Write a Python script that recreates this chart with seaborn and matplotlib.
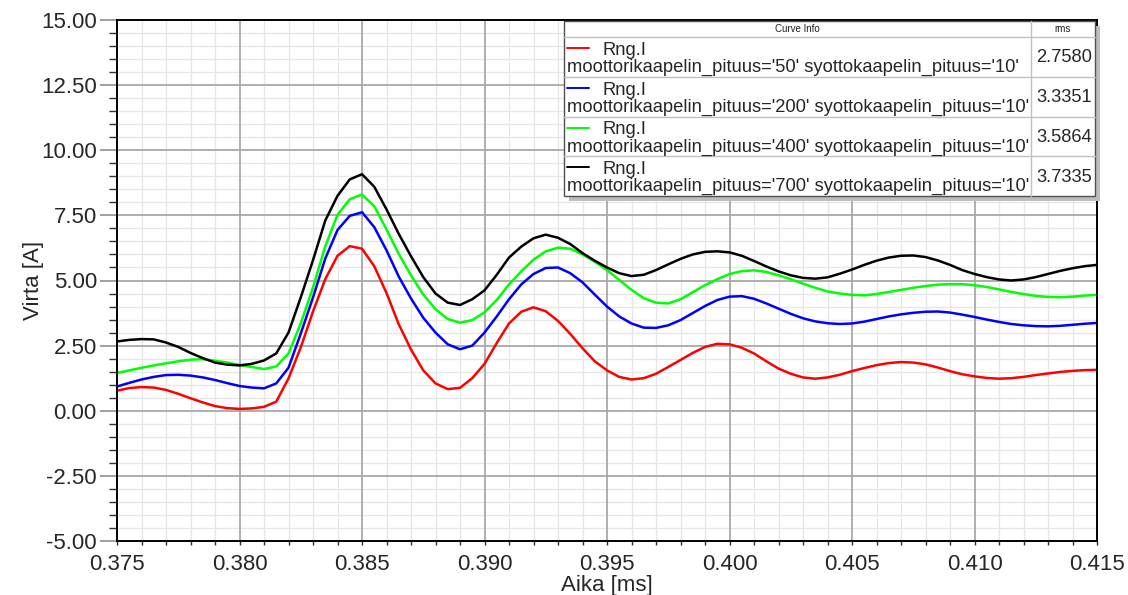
import numpy as np
import pandas as pd
import matplotlib
matplotlib.use("Agg")
import matplotlib.pyplot as plt
from matplotlib.patches import Rectangle
from matplotlib.lines import Line2D
from matplotlib.ticker import MultipleLocator, FormatStrFormatter
import seaborn as sns

# ---------------- data ----------------
TIME_MS = np.linspace(0.375, 0.415, 81)

I_50 = [0.77, 0.87, 0.91, 0.89, 0.80, 0.65, 0.48, 0.32, 0.18, 0.10,
        0.07, 0.09, 0.15, 0.35, 1.24, 2.43, 3.81, 5.05, 5.95, 6.32,
        6.22, 5.55, 4.52, 3.32, 2.35, 1.55, 1.05, 0.83, 0.88, 1.25,
        1.80, 2.60, 3.35, 3.80, 3.97, 3.82, 3.45, 2.95, 2.40, 1.90,
        1.55, 1.30, 1.20, 1.25, 1.42, 1.68, 1.95, 2.22, 2.45, 2.57,
        2.55, 2.42, 2.20, 1.90, 1.62, 1.42, 1.28, 1.23, 1.28, 1.38,
        1.52, 1.64, 1.75, 1.83, 1.87, 1.85, 1.78, 1.66, 1.52, 1.40,
        1.32, 1.26, 1.23, 1.25, 1.30, 1.37, 1.43, 1.49, 1.53, 1.56,
        1.57]

I_200 = [0.93, 1.07, 1.20, 1.30, 1.37, 1.38, 1.35, 1.28, 1.18, 1.06,
         0.95, 0.89, 0.86, 1.05, 1.65, 2.96, 4.35, 5.84, 6.94, 7.48,
         7.62, 7.05, 6.16, 5.15, 4.31, 3.57, 3.00, 2.55, 2.36, 2.50,
         3.00, 3.62, 4.28, 4.85, 5.25, 5.48, 5.50, 5.28, 4.93, 4.46,
         4.00, 3.62, 3.35, 3.19, 3.18, 3.28, 3.48, 3.75, 4.02, 4.25,
         4.38, 4.40, 4.30, 4.12, 3.92, 3.72, 3.55, 3.43, 3.36, 3.33,
         3.35, 3.42, 3.52, 3.62, 3.70, 3.76, 3.80, 3.81, 3.77, 3.69,
         3.60, 3.50, 3.41, 3.33, 3.28, 3.25, 3.24, 3.26, 3.30, 3.34,
         3.37]

I_400 = [1.45, 1.55, 1.65, 1.74, 1.82, 1.90, 1.96, 1.98, 1.92, 1.85,
         1.76, 1.68, 1.60, 1.70, 2.20, 3.35, 4.73, 6.31, 7.52, 8.12,
         8.30, 7.85, 6.96, 6.02, 5.20, 4.46, 3.90, 3.52, 3.38, 3.48,
         3.78, 4.25, 4.85, 5.35, 5.80, 6.12, 6.26, 6.22, 6.00, 5.72,
         5.40, 5.02, 4.64, 4.32, 4.15, 4.12, 4.28, 4.55, 4.82, 5.05,
         5.25, 5.36, 5.39, 5.33, 5.20, 5.05, 4.88, 4.72, 4.58, 4.50,
         4.45, 4.43, 4.48, 4.56, 4.64, 4.72, 4.79, 4.84, 4.86, 4.86,
         4.82, 4.75, 4.66, 4.56, 4.48, 4.41, 4.37, 4.36, 4.38, 4.42,
         4.45]

I_700 = [2.66, 2.72, 2.75, 2.74, 2.62, 2.45, 2.22, 2.02, 1.85, 1.77,
         1.74, 1.80, 1.93, 2.20, 3.00, 4.35, 5.78, 7.30, 8.25, 8.88,
         9.08, 8.60, 7.73, 6.79, 5.93, 5.13, 4.50, 4.15, 4.06, 4.28,
         4.62, 5.22, 5.88, 6.30, 6.62, 6.76, 6.64, 6.40, 6.05, 5.76,
         5.50, 5.28, 5.17, 5.22, 5.40, 5.62, 5.83, 6.00, 6.10, 6.12,
         6.08, 5.95, 5.75, 5.54, 5.35, 5.20, 5.10, 5.07, 5.12, 5.26,
         5.42, 5.60, 5.76, 5.88, 5.95, 5.96, 5.90, 5.77, 5.60, 5.40,
         5.25, 5.13, 5.04, 5.00, 5.04, 5.13, 5.25, 5.37, 5.47, 5.55,
         5.60]

CABLE_LENGTHS = ["50", "200", "400", "700"]
RMS_VALUES = ["2.7580", "3.3351", "3.5864", "3.7335"]
COLORS = ["#ff0000", "#0000ff", "#00ff00", "#000000"]
SERIES = [I_50, I_200, I_400, I_700]

# ---------------- figure ----------------
sns.set_style("white")
plt.rcParams["font.family"] = ["Liberation Sans", "DejaVu Sans"]

W, H = 1128, 595
fig = plt.figure(figsize=(W / 100, H / 100), dpi=100)
ax = fig.add_axes([117 / W, 1 - 541 / H, 980 / W, 521 / H])

frames = []
for name, vals in zip(CABLE_LENGTHS, SERIES):
    frames.append(pd.DataFrame({"t": TIME_MS, "I": vals, "len": name}))
df = pd.concat(frames, ignore_index=True)

sns.lineplot(data=df, x="t", y="I", hue="len", hue_order=CABLE_LENGTHS,
             palette=COLORS, linewidth=1.8, legend=False, ax=ax,
             estimator=None, sort=False, zorder=3)

ax.set_xlim(0.375, 0.415)
ax.set_ylim(-5, 15)
ax.xaxis.set_major_locator(MultipleLocator(0.005))
ax.xaxis.set_minor_locator(MultipleLocator(0.001))
ax.yaxis.set_major_locator(MultipleLocator(2.5))
ax.yaxis.set_minor_locator(MultipleLocator(0.5))
ax.xaxis.set_major_formatter(FormatStrFormatter("%.3f"))
ax.yaxis.set_major_formatter(FormatStrFormatter("%.2f"))

ax.set_axisbelow(True)
ax.grid(which="minor", color="#e6e6e6", linewidth=0.9, linestyle="-")
ax.grid(which="major", visible=False)
# major grid drawn on top of the minor grid
for v in ax.get_xticks():
    if 0.375 < v < 0.415:
        ax.axvline(v, color="#a8a8a8", linewidth=1.3, zorder=1)
for v in ax.get_yticks():
    if -5 < v < 15:
        ax.axhline(v, color="#a8a8a8", linewidth=1.3, zorder=1)

for s in ax.spines.values():
    s.set_color("black")
    s.set_linewidth(1.4)
    s.set_visible(True)
    s.set_zorder(4)

ax.tick_params(axis="y", which="major", direction="out", length=12.5,
               width=1.2, color="#909090", labelsize=16, pad=2,
               left=True)
ax.tick_params(axis="y", which="minor", direction="out", length=6,
               width=1.0, color="#303030", left=True)
ax.tick_params(axis="x", which="major", direction="out", length=3,
               width=1.0, color="#303030", labelsize=16, pad=6,
               bottom=True)
ax.tick_params(axis="x", which="minor", direction="out", length=3,
               width=1.0, color="#303030", bottom=True)

ax.set_xlabel("Aika [ms]", fontsize=16, labelpad=0)
ax.set_ylabel("Virta [A]", fontsize=16, labelpad=-2)


# ---------------- legend table ("Curve Info") ----------------
def fx(x):
    return x / W


def fy(y):
    return 1 - y / H


L, R, T, B = 564, 1095, 21, 196
SEP = 1031
HDR = 37
ROW = (B - HDR) / 4

# shadow
fig.add_artist(Rectangle((fx(L + 5), fy(B + 5)), fx(R - L), (B - T) / H,
                         transform=fig.transFigure, facecolor="#bdbdbd",
                         edgecolor="none", zorder=5))
# box
fig.add_artist(Rectangle((fx(L), fy(B)), fx(R - L), (B - T) / H,
                         transform=fig.transFigure, facecolor="white",
                         edgecolor="#505050", linewidth=1.0, zorder=6))
# inner lines
fig.add_artist(Line2D([fx(SEP), fx(SEP)], [fy(T), fy(B)],
                      transform=fig.transFigure, color="#c0c0c0",
                      linewidth=1.0, zorder=7))
for k in range(4):
    yy = HDR + k * ROW
    fig.add_artist(Line2D([fx(L), fx(R)], [fy(yy), fy(yy)],
                          transform=fig.transFigure, color="#c0c0c0",
                          linewidth=1.0, zorder=7))

fig.text(fx((L + SEP) / 2), fy((T + HDR) / 2), "Curve Info", fontsize=7,
         ha="center", va="center", color="#202020", zorder=8)
fig.text(fx((SEP + R) / 2), fy((T + HDR) / 2), "rms", fontsize=7,
         ha="center", va="center", color="#202020", zorder=8)

for i, (name, rms, col) in enumerate(zip(CABLE_LENGTHS, RMS_VALUES, COLORS)):
    top = HDR + i * ROW
    fig.add_artist(Line2D([fx(567), fx(589)], [fy(top + 11), fy(top + 11)],
                          transform=fig.transFigure, color=col,
                          linewidth=1.4, zorder=8))
    fig.text(fx(602), fy(top + 18), "Rng.I", fontsize=13.2, ha="left",
             va="baseline", zorder=8)
    fig.text(fx(567), fy(top + 35),
             f"moottorikaapelin_pituus='{name}' syottokaapelin_pituus='10'",
             fontsize=13.2, ha="left", va="baseline", zorder=8)
    fig.text(fx((SEP + R) / 2 + 1), fy(top + ROW / 2 + 1), rms, fontsize=13.2,
             ha="center", va="center", zorder=8)

fig.savefig("out.png", dpi=100)
